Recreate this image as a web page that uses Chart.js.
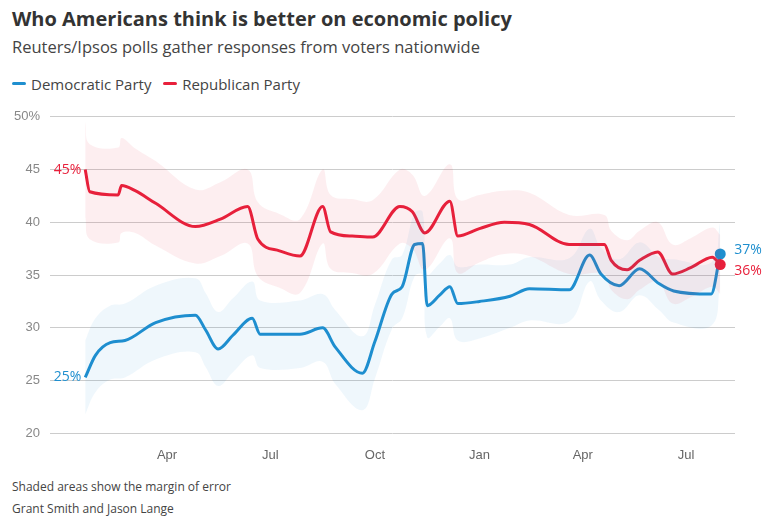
<!DOCTYPE html>
<html><head><meta charset="utf-8">
<script src="https://cdn.jsdelivr.net/npm/chart.js@4"></script>
<style>
body{margin:0;width:770px;height:523px;font-family:"Source Sans Pro","Open Sans",sans-serif;background:#fff;position:relative;overflow:hidden}
#t{position:absolute;left:12px;top:5px;font-size:20px;font-weight:bold;color:#333}
#s{position:absolute;left:12px;top:35px;font-size:16.5px;color:#444}
#lg{position:absolute;left:12px;top:74px;font-size:15px;color:#444}
#lg span{display:inline-block;width:14px;height:3px;border-radius:2px;vertical-align:middle;margin-right:5px;position:relative;top:-2px}
.f{position:absolute;left:12px;font-size:12px;color:#444}
#wrap{position:absolute;left:0;top:99px;width:770px;height:370px}
</style></head><body>
<div id="t">Who Americans think is better on economic policy</div>
<div id="s">Reuters/Ipsos polls gather responses from voters nationwide</div>
<div id="lg"><span style="background:#1f8fcf"></span>Democratic Party &nbsp;&nbsp;<span style="background:#e8203b"></span>Republican Party</div>
<div class="f" style="top:478px">Shaded areas show the margin of error</div>
<div class="f" style="top:500px">Grant Smith and Jason Lange</div>
<div id="wrap"><canvas id="c"></canvas></div>
<script>
// Days counted from 1 Jan 2023
const tickDays = [90, 181, 273, 365, 456, 547];
const tickLabels = ['Apr', 'Jul', 'Oct', 'Jan', 'Apr', 'Jul'];

const demDays = [18,27,40,53,80,115,124,135,148,165,172,207,227,238,262,273,288,297,308,315,319,330,339,346,365,392,409,444,462,472,488,506,523,536,569,577];
const demVals = [25.3,27.4,28.6,28.8,30.5,31.2,29.8,28.0,29.3,30.9,29.4,29.4,30.0,28.2,25.7,28.7,33.2,33.9,37.9,38.0,32.1,33.1,33.9,32.3,32.5,33.0,33.7,33.6,36.9,35.1,34.0,35.6,34.2,33.5,33.2,37.0];
const demMargin = [3.5,3.5,3.5,3.5,3.5,3.5,3.5,3.5,3.5,3.5,3.2,3.2,3.2,3.5,3.5,3.5,3.3,3.0,3.0,3.0,3.0,3.0,3.0,3.5,3.5,3.0,3.0,3.0,2.5,2.5,2.5,2.5,2.5,3.0,3.0,3.0];

const repDays = [18,22,47,50,62,80,115,137,161,170,189,207,227,234,253,271,295,306,317,339,346,365,387,409,444,475,481,495,506,522,535,551,570,577];
const repVals = [45.0,42.9,42.6,43.5,43.0,41.8,39.6,40.3,41.5,38.4,37.3,36.8,41.5,39.1,38.7,38.6,41.5,41.0,39.0,42.0,38.7,39.4,40.0,39.8,37.9,37.9,36.4,35.5,36.4,37.2,35.1,35.7,36.7,36.0];
const repMargin = [4.5,4.5,4.5,4.5,4.0,4.0,3.5,3.5,3.5,3.5,3.5,3.5,3.5,3.5,3.5,3.5,3.5,3.5,3.5,3.5,3.5,3.2,3.0,3.0,2.8,2.8,2.8,2.8,2.8,2.8,2.8,2.8,2.8,2.8];

const line = (d, v) => d.map((x, i) => ({x, y: v[i]}));
const band = (d, v, m, s) => d.map((x, i) => ({x, y: v[i] + s * m[i]}));
const lastDot = n => Array.from({length: n}, (_, i) => i === n - 1 ? 5.5 : 0);

const endLabels = {
  id: 'endLabels',
  afterDatasetsDraw(chart) {
    const ctx = chart.ctx, x = chart.scales.x, y = chart.scales.y;
    ctx.save();
    ctx.font = '14px "Open Sans", sans-serif';
    ctx.textBaseline = 'middle';
    ctx.textAlign = 'right';
    ctx.fillStyle = '#e8203b';
    ctx.fillText(Math.round(repVals[0]) + '%', x.getPixelForValue(repDays[0]) - 4, y.getPixelForValue(repVals[0]));
    ctx.fillStyle = '#1f8fcf';
    ctx.fillText(Math.round(demVals[0]) + '%', x.getPixelForValue(demDays[0]) - 4, y.getPixelForValue(demVals[0]));
    ctx.textAlign = 'left';
    ctx.fillText(Math.round(demVals.at(-1)) + '%', x.getPixelForValue(demDays.at(-1)) + 14, y.getPixelForValue(demVals.at(-1)) - 4);
    ctx.fillStyle = '#e8203b';
    ctx.fillText(Math.round(repVals.at(-1)) + '%', x.getPixelForValue(repDays.at(-1)) + 14, y.getPixelForValue(repVals.at(-1)) + 6);
    ctx.restore();
  }
};

new Chart(document.getElementById('c'), {
  type: 'line',
  data: {
    datasets: [
      {data: band(repDays, repVals, repMargin, 1), borderWidth: 0, pointRadius: 0, fill: false, tension: 0.4},
      {data: band(repDays, repVals, repMargin, -1), borderWidth: 0, pointRadius: 0, fill: '-1', backgroundColor: 'rgba(232,32,59,0.08)', tension: 0.4},
      {data: band(demDays, demVals, demMargin, 1), borderWidth: 0, pointRadius: 0, fill: false, tension: 0.4},
      {data: band(demDays, demVals, demMargin, -1), borderWidth: 0, pointRadius: 0, fill: '-1', backgroundColor: 'rgba(31,143,207,0.07)', tension: 0.4},
      {data: line(repDays, repVals), borderColor: '#e8203b', backgroundColor: '#e8203b', borderWidth: 3, pointRadius: lastDot(repDays.length), pointBorderWidth: 0, cubicInterpolationMode: 'monotone'},
      {data: line(demDays, demVals), borderColor: '#1f8fcf', backgroundColor: '#1f8fcf', borderWidth: 3, pointRadius: lastDot(demDays.length), pointBorderWidth: 0, cubicInterpolationMode: 'monotone'}
    ]
  },
  options: {
    responsive: true, maintainAspectRatio: false, animation: false,
    layout: {padding: {left: 0, right: 35, top: 8, bottom: 0}},
    plugins: {legend: {display: false}, tooltip: {enabled: false}},
    scales: {
      x: {
        type: 'linear', min: -13, max: 590,
        grid: {display: false},
        border: {display: false},
        afterBuildTicks: s => { s.ticks = tickDays.map(v => ({value: v})); },
        ticks: {callback: (v, i) => tickLabels[i], color: '#666', font: {size: 13}, maxRotation: 0, padding: 6}
      },
      y: {
        min: 20, max: 50,
        afterFit: s => { s.width = 50; },
        border: {display: false},
        grid: {color: '#ccc', drawTicks: false},
        afterBuildTicks: s => { s.ticks = [20,25,30,35,40,45,50].map(v => ({value: v})); },
        ticks: {callback: v => v === 50 ? '50%' : v, color: '#888', font: {size: 13}, padding: 10}
      }
    }
  },
  plugins: [endLabels]
});
</script>
</body></html>
